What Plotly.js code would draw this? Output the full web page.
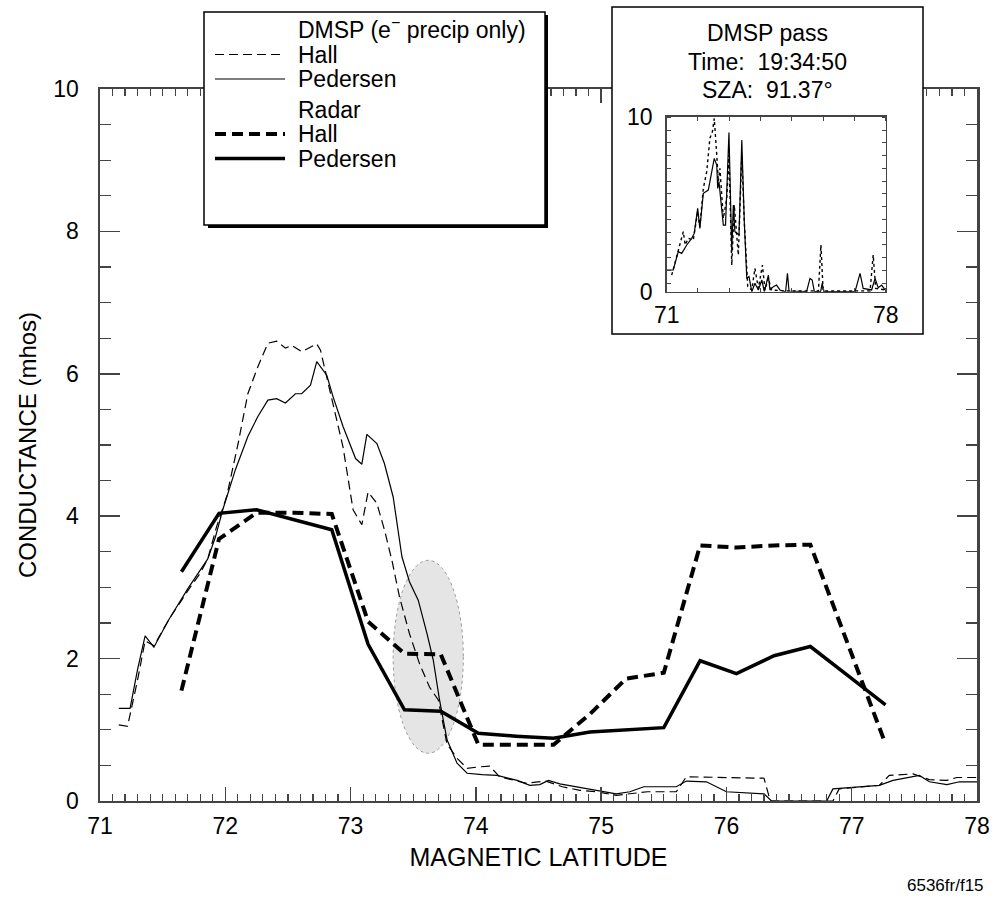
<!DOCTYPE html>
<html><head><meta charset="utf-8">
<script src="https://cdn.plot.ly/plotly-3.0.1.min.js"></script>
<style>body{margin:0;background:#fff}#chart{width:994px;height:903px}</style>
</head><body><div id="chart"></div>
<script>
// DMSP (electron precipitation only) conductances
const dmspHallLat = [71.15,71.22,71.30,71.36,71.43,71.55,71.70,71.80,71.86,71.93,72.01,72.10,72.18,72.26,72.34,72.41,72.48,72.53,72.61,72.73,72.76,72.85,72.94,73.02,73.09,73.14,73.21,73.27,73.33,73.39,73.47,73.55,73.63,73.70,73.77,73.85,73.93,74.03,74.11,74.19,74.40,74.56,74.69,74.83,74.96,75.12,75.37,75.60,75.68,76.30,76.35,76.85,76.90,77.22,77.30,77.49,77.62,77.76,77.84,78.00];
const dmspHall    = [1.07,1.05,1.70,2.25,2.18,2.55,2.95,3.20,3.40,3.85,4.27,5.00,5.72,6.10,6.43,6.46,6.36,6.40,6.31,6.42,6.33,5.63,4.97,4.09,3.88,4.34,4.18,3.81,3.38,2.87,2.35,1.93,1.60,1.42,0.80,0.60,0.46,0.48,0.49,0.34,0.25,0.28,0.20,0.15,0.13,0.08,0.13,0.13,0.34,0.32,0.00,0.00,0.17,0.22,0.36,0.38,0.30,0.29,0.33,0.33];
const dmspPedLat  = [71.15,71.24,71.30,71.36,71.43,71.55,71.70,71.80,71.86,71.92,71.98,72.08,72.18,72.26,72.34,72.41,72.48,72.56,72.61,72.68,72.73,72.81,72.86,72.94,73.04,73.09,73.13,73.21,73.27,73.34,73.41,73.47,73.54,73.61,73.66,73.71,73.77,73.85,73.93,74.05,74.17,74.33,74.43,74.51,74.58,74.67,74.80,74.96,75.12,75.23,75.34,75.60,75.68,75.84,75.92,76.00,76.30,76.36,76.80,76.85,77.22,77.33,77.54,77.62,77.76,77.86,78.00];
const dmspPed     = [1.30,1.30,1.85,2.32,2.16,2.55,2.98,3.24,3.40,3.70,4.09,4.65,5.12,5.40,5.63,5.65,5.59,5.72,5.72,5.84,6.17,5.98,5.68,5.26,4.81,4.73,5.15,5.02,4.74,4.27,3.43,3.08,2.82,2.35,1.98,1.42,0.86,0.53,0.39,0.37,0.36,0.29,0.22,0.23,0.29,0.24,0.20,0.15,0.10,0.13,0.20,0.20,0.28,0.27,0.20,0.13,0.10,0.00,0.00,0.17,0.22,0.29,0.36,0.27,0.23,0.27,0.27];

// Radar conductances
const radarLat  = [71.65,71.95,72.25,72.55,72.85,73.14,73.43,73.72,74.02,74.32,74.62,74.91,75.20,75.50,75.79,76.08,76.38,76.67,76.97,77.27];
const radarHall = [1.55,3.68,4.05,4.05,4.03,2.52,2.07,2.06,0.79,0.79,0.79,1.22,1.72,1.80,3.59,3.56,3.59,3.60,2.20,0.80];
const radarPed  = [3.22,4.04,4.09,3.95,3.81,2.20,1.28,1.26,0.95,0.91,0.88,0.97,1.00,1.03,1.97,1.79,2.04,2.17,1.76,1.35];

// Inset: full DMSP pass
const insetPedLat = [71.0,71.21,71.37,71.48,71.64,71.80,71.88,71.99,72.06,72.17,72.33,72.44,72.52,72.60,72.63,72.67,72.81,72.88,72.99,73.08,73.13,73.18,73.31,73.40,73.48,73.56,73.63,73.72,73.82,73.93,74.04,74.12,74.25,74.30,74.41,74.51,74.62,74.80,74.86,74.91,75.47,75.58,75.65,75.72,75.92,75.97,76.03,77.02,77.18,77.28,77.55,77.66,77.76,77.87,77.98];
const insetPed    = [1.24,1.24,2.29,2.19,2.67,3.05,3.33,4.76,3.62,5.62,5.81,6.76,7.62,7.24,5.9,6.29,3.81,3.81,9.10,2.29,4.95,3.43,3.24,8.67,4.0,0.76,0.86,0,0.48,0.1,0.67,0,0.95,0.1,0.29,0.38,0.1,0,1.05,0.04,0,0.76,0.67,0,0,0.48,0,0,1.05,0.19,0.1,0.76,0.23,0.38,0.1];
const insetHallLat = [71.16,71.37,71.53,71.59,71.69,71.85,71.99,72.06,72.17,72.28,72.38,72.46,72.52,72.60,72.65,72.70,72.81,72.92,72.99,73.08,73.16,73.29,73.40,73.48,73.59,73.72,73.82,73.93,74.06,74.14,74.25,74.35,74.80,75.85,75.93,76.0,77.5,77.6,77.68,77.98];
const insetHall    = [0.95,2.29,3.43,2.67,3.05,2.95,4.57,3.71,5.9,6.86,8.76,9.14,9.9,7.81,6.29,7.05,4.19,5.33,7.81,1.52,4.95,2.1,7.81,4.0,0.29,0.1,1.33,0.19,1.52,0.1,0.76,0.1,0.04,0.04,2.67,0.04,0.04,2.1,0.19,0.1];

// Shaded region (latitude span, conductance span)
const shadedLat = [73.34, 73.90];
const shadedCond = [0.67, 3.38];

// Texts
const legendHeadings = ['DMSP (e<sup>−</sup> precip only)', 'Radar'];
const legendLabels = ['Hall', 'Pedersen', 'Hall', 'Pedersen'];
const insetTitle = ['DMSP pass', 'Time:  19:34:50', 'SZA:  91.37°'];

const FONT = 'Liberation Sans, Arial, Helvetica, sans-serif';
const FS = 23;

// line styles shared by the traces and their legend keys
const styles = [
  {color: '#000', width: 1.2, dash: '9px,5px'},
  {color: '#000', width: 1.2},
  {color: '#000', width: 4, dash: '11px,6px'},
  {color: '#000', width: 3.5}
];

const traces = [
  {x: dmspHallLat, y: dmspHall, mode: 'lines', name: 'DMSP Hall', line: styles[0]},
  {x: dmspPedLat, y: dmspPed, mode: 'lines', name: 'DMSP Pedersen', line: styles[1]},
  {x: radarLat, y: radarHall, mode: 'lines', name: 'Radar Hall', line: styles[2]},
  {x: radarLat, y: radarPed, mode: 'lines', name: 'Radar Pedersen', line: styles[3]},
  {x: insetPedLat, y: insetPed, mode: 'lines', xaxis: 'x2', yaxis: 'y2', name: 'DMSP pass Pedersen',
   line: {color: '#000', width: 1.2}},
  {x: insetHallLat, y: insetHall, mode: 'lines', xaxis: 'x2', yaxis: 'y2', name: 'DMSP pass Hall',
   line: {color: '#000', width: 1.4, dash: 'dot'}}
];

const W = 994, H = 903, L = 100, R = 17, T = 89, B = 102;
const pw = W - L - R, ph = H - T - B;
const px = v => (v - L) / pw;
const py = v => (H - B - v) / ph;

const shapes = [
  {type: 'circle', xref: 'x', yref: 'y', layer: 'below',
   x0: shadedLat[0], x1: shadedLat[1], y0: shadedCond[0], y1: shadedCond[1],
   fillcolor: 'rgba(150,150,150,0.25)', line: {color: '#999', width: 1, dash: 'dot'}},
  // legend box shadow + box
  {type: 'rect', xref: 'paper', yref: 'paper', layer: 'above',
   x0: px(208), x1: px(548), y0: py(228), y1: py(15), fillcolor: '#000', line: {width: 0}},
  {type: 'rect', xref: 'paper', yref: 'paper', layer: 'above',
   x0: px(204), x1: px(545), y0: py(225), y1: py(12), fillcolor: '#fff', line: {color: '#000', width: 1.5}},
  // inset box: cover strip above the inset plot, then border
  {type: 'rect', xref: 'paper', yref: 'paper', layer: 'above',
   x0: px(612), x1: px(923), y0: py(105), y1: py(7), fillcolor: '#fff', line: {width: 0}},
  {type: 'rect', xref: 'paper', yref: 'paper', layer: 'above',
   x0: px(612), x1: px(923), y0: py(334), y1: py(7), fillcolor: 'rgba(0,0,0,0)', line: {color: '#000', width: 1.5}}
];

const annotations = [];
// legend rows
const keyRows = [54.5, 79, 134, 158.5];
const headRows = [28, 109.5];
legendHeadings.forEach((t, i) => annotations.push({text: t, xref: 'paper', yref: 'paper',
  x: px(296), y: py(headRows[i]), xanchor: 'left', yanchor: 'middle', showarrow: false, font: {size: FS}}));
legendLabels.forEach((t, i) => {
  annotations.push({text: t, xref: 'paper', yref: 'paper', x: px(296), y: py(keyRows[i]),
    xanchor: 'left', yanchor: 'middle', showarrow: false, font: {size: FS}});
  shapes.push({type: 'line', xref: 'paper', yref: 'paper', layer: 'above',
    x0: px(215), x1: px(285), y0: py(keyRows[i]), y1: py(keyRows[i]), line: styles[i]});
});
// inset title
[33, 62, 90].forEach((r, i) => annotations.push({text: insetTitle[i], xref: 'paper', yref: 'paper',
  x: px(767), y: py(r), xanchor: 'center', yanchor: 'middle', showarrow: false, font: {size: FS}}));
annotations.push({text: '6536fr/f15', xref: 'paper', yref: 'paper', x: px(986), y: py(885),
  xanchor: 'right', yanchor: 'middle', showarrow: false, font: {size: 17}});

const layout = {
  width: W, height: H,
  margin: {l: L, r: R, t: T, b: B, autoexpand: false},
  paper_bgcolor: '#fff', plot_bgcolor: '#fff',
  font: {family: FONT, color: '#000', size: FS},
  showlegend: false,
  xaxis: {range: [71, 78], dtick: 1, ticks: 'inside', ticklen: 14, tickwidth: 1.5,
    minor: {dtick: 0.1, ticks: 'inside', ticklen: 7, tickwidth: 1.2, showgrid: false},
    showline: true, linewidth: 2, mirror: 'ticks', showgrid: false, zeroline: false,
    tickfont: {size: 23}, ticklabelstandoff: 3,
    title: {text: 'MAGNETIC LATITUDE', font: {size: 25}, standoff: 11}},
  yaxis: {range: [0, 10], dtick: 2, ticks: 'inside', ticklen: 20, tickwidth: 1.5,
    minor: {dtick: 0.5, ticks: 'inside', ticklen: 11, tickwidth: 1.2, showgrid: false},
    showline: true, linewidth: 2.5, mirror: 'ticks', showgrid: false, zeroline: false,
    tickfont: {size: 23}, ticklabelstandoff: 14,
    title: {text: 'CONDUCTANCE (mhos)', font: {size: 24}, standoff: 10}},
  xaxis2: {domain: [px(666.7), px(885.7)], anchor: 'y2', range: [71, 78],
    tickmode: 'array', tickvals: [71, 78], ticktext: ['71', '78'], ticks: '',
    minor: {dtick: 1, ticks: 'inside', ticklen: 4, tickwidth: 1, showgrid: false},
    showline: true, linewidth: 1.5, mirror: 'ticks', showgrid: false, zeroline: false,
    tickfont: {size: 23}, ticklabelstandoff: 2},
  yaxis2: {domain: [py(291.7), py(116.7)], anchor: 'x2', range: [0, 10],
    tickmode: 'array', tickvals: [0, 10], ticktext: ['0', '10'], ticks: '',
    minor: {tick0: 0.48, dtick: 0.73, ticks: 'inside', ticklen: 4, tickwidth: 1, showgrid: false},
    showline: true, linewidth: 1.5, mirror: 'ticks', showgrid: false, zeroline: false,
    tickfont: {size: 23}, ticklabelstandoff: 8},
  shapes: shapes,
  annotations: annotations
};

Plotly.newPlot('chart', traces, layout, {displayModeBar: false, staticPlot: true});
</script>
</body></html>
